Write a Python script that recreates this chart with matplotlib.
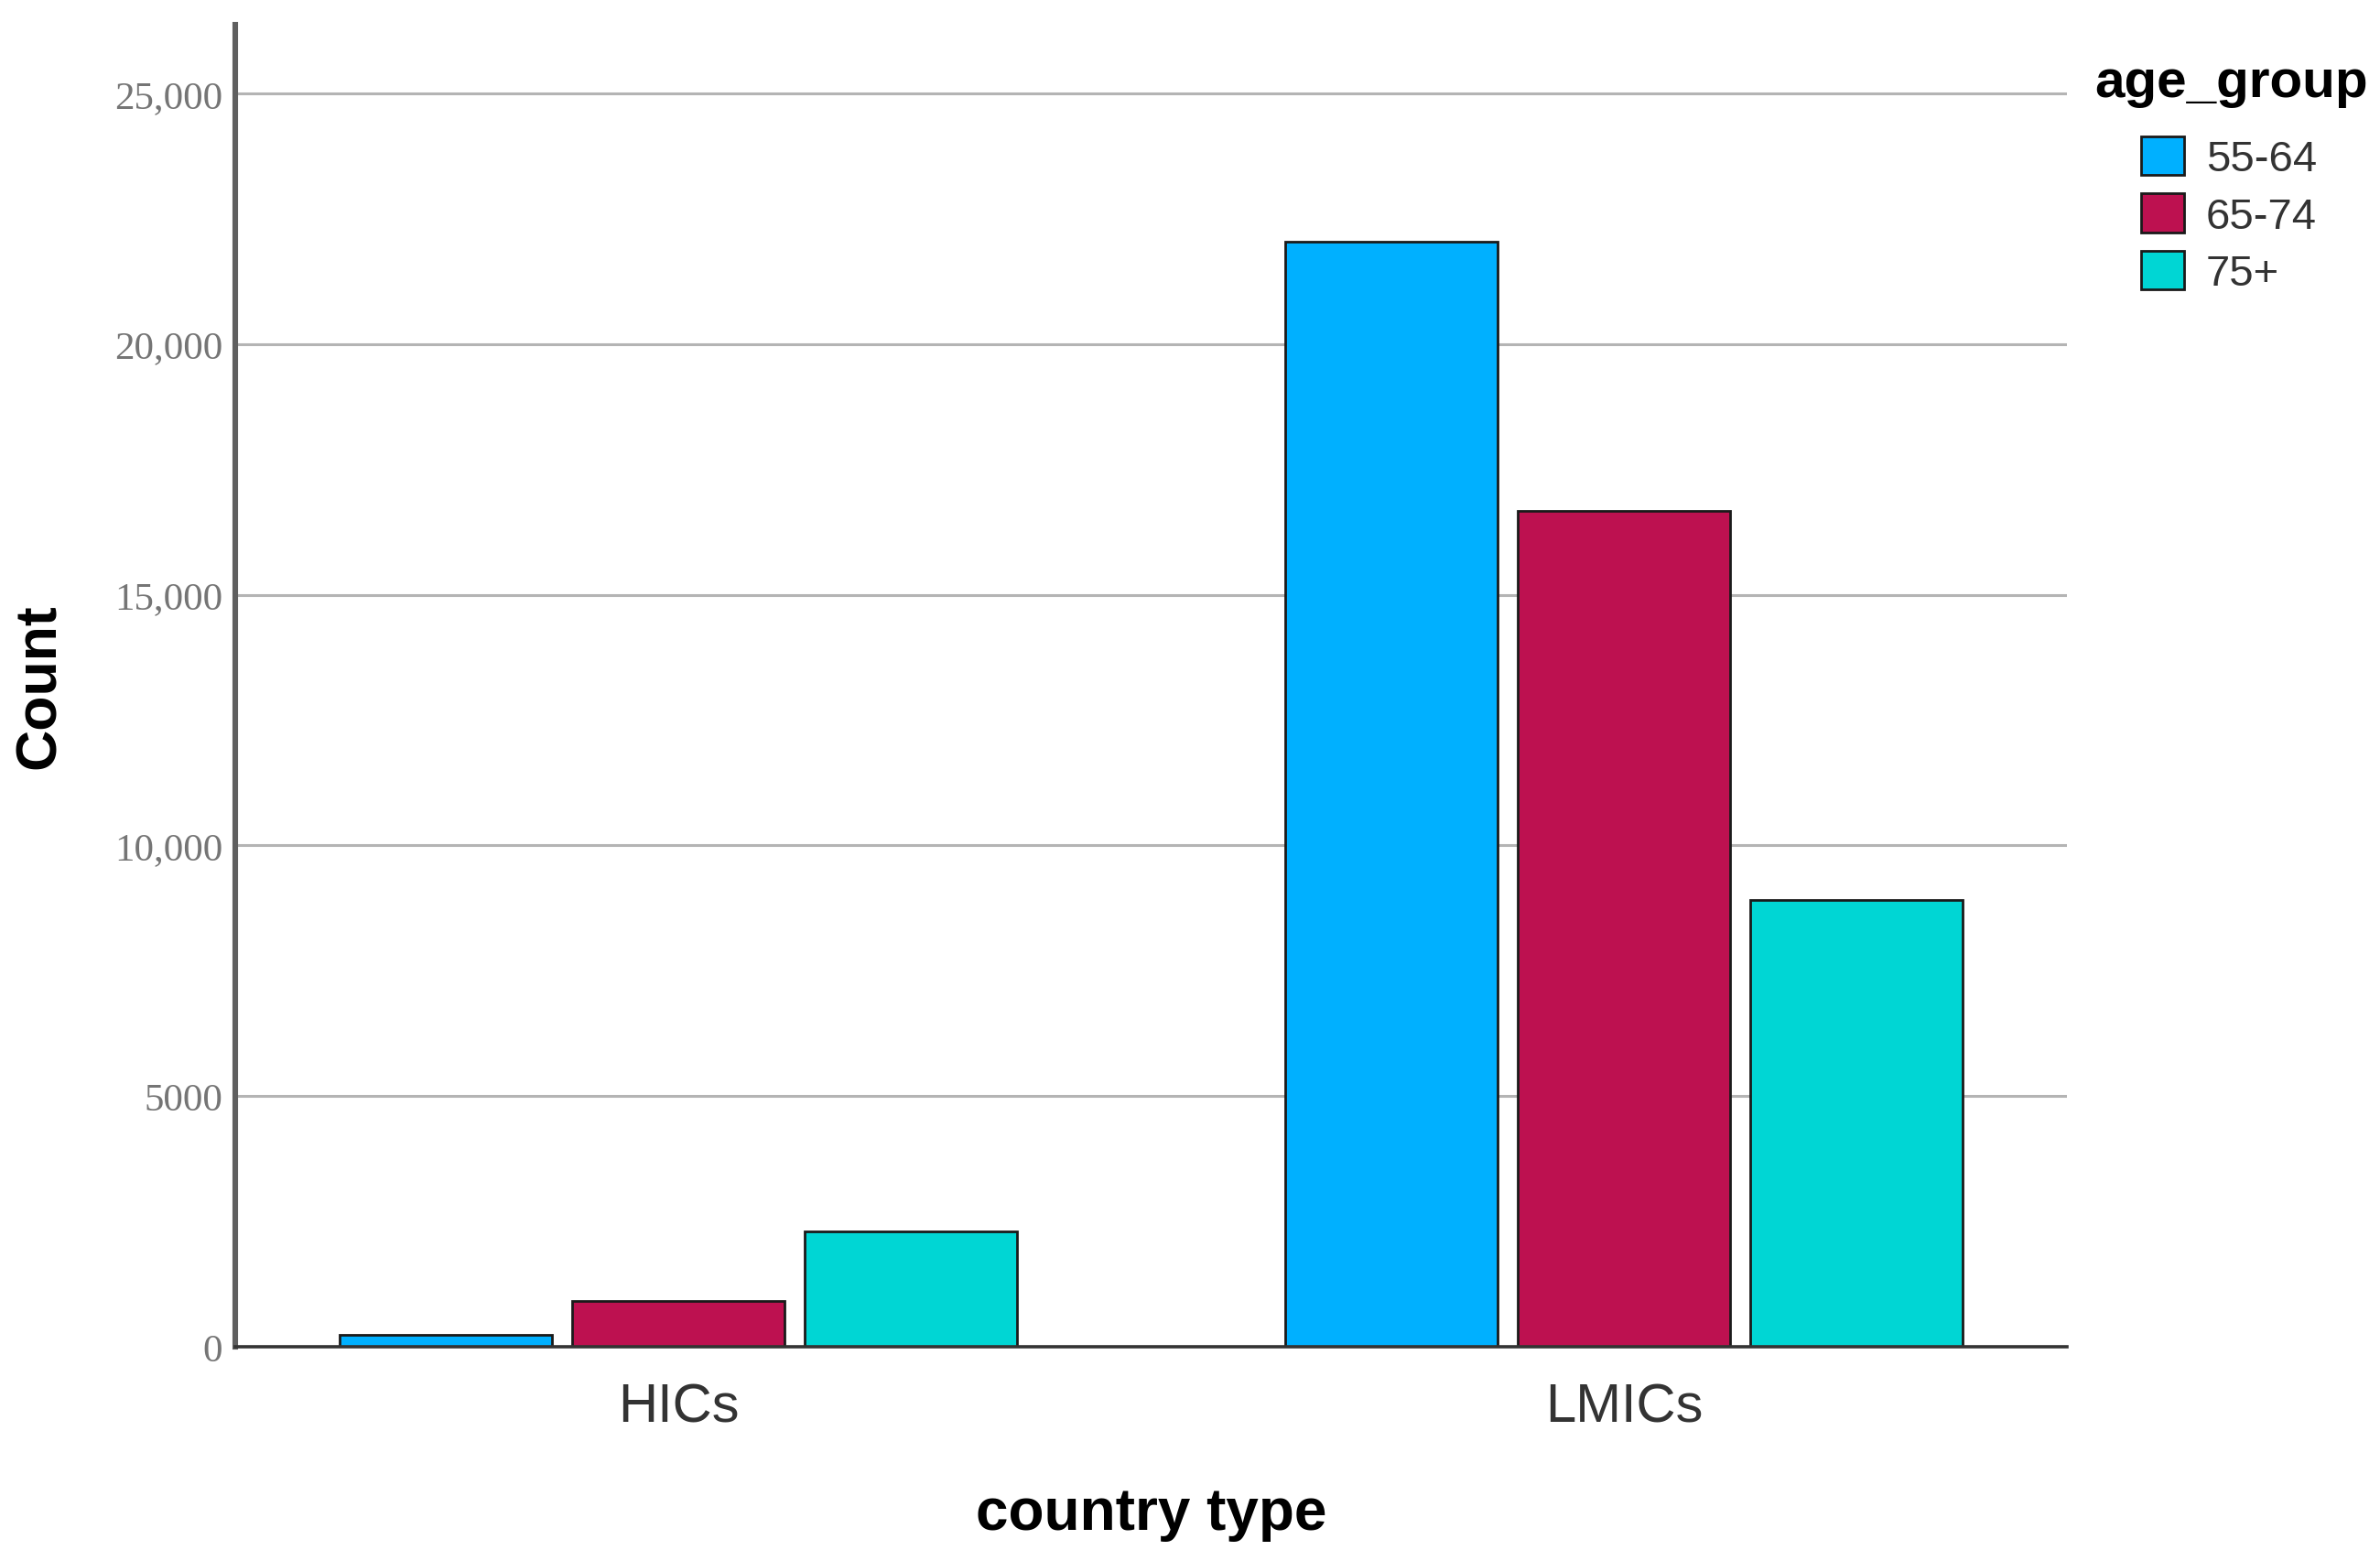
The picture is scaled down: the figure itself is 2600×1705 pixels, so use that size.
import matplotlib
matplotlib.use("Agg")
import matplotlib.pyplot as plt
import numpy as np

plt.rcParams["font.family"] = "Liberation Sans"

# Datos
country_types = ["HICs", "LMICs"]
age_groups = ["55-64", "65-74", "75+"]
count_55_64 = [240, 22050]
count_65_74 = [910, 16680]
count_75_plus = [2300, 8920]
series = [count_55_64, count_65_74, count_75_plus]
colores = ["#00b0ff", "#bd1150", "#00d6d4"]

y_ticks = [0, 5000, 10000, 15000, 20000, 25000]
y_tick_labels = ["0", "5000", "10,000", "15,000", "20,000", "25,000"]

W, H = 2600, 1706
fig = plt.figure(figsize=(13, 8.53), dpi=200)
ax = fig.add_axes([257 / W, 1 - 1472 / H, (2258 - 257) / W, (1472 - 28) / H])

x = np.arange(len(country_types))
step = 0.2456
width = 0.2247
for i, (vals, col, lab) in enumerate(zip(series, colores, age_groups)):
    ax.bar(x + (i - 1) * step, vals, width=width, color=col, edgecolor="#1a1a1a",
           linewidth=1.0, label=lab, zorder=3)

ax.set_xlim(-0.4687, 1.4687)
ax.set_ylim(0, 26370)

# ejes y rejilla
ax.set_yticks(y_ticks)
ax.set_yticklabels(y_tick_labels, fontfamily="Liberation Serif", fontsize=15.5, color="#757575")
ax.set_xticks(x)
ax.set_xticklabels(country_types, fontsize=21.5, color="#333333")
ax.tick_params(axis="y", length=0, pad=5)
ax.tick_params(axis="x", length=0, pad=14)
ax.yaxis.grid(True, color="#b4b4b4", linewidth=1.1, zorder=0)
ax.set_axisbelow(True)

for s in ["top", "right"]:
    ax.spines[s].set_visible(False)
ax.spines["left"].set_color("#5f5f5f")
ax.spines["left"].set_linewidth(2.2)
ax.spines["bottom"].set_color("#333333")
ax.spines["bottom"].set_linewidth(1.3)
ax.spines["bottom"].set_zorder(4)

ax.set_xlabel("country type", fontsize=23, fontweight="bold", labelpad=21)
ax.set_ylabel("Count", fontsize=22.5, fontweight="bold")
ax.yaxis.set_label_coords(-0.092, 0.5)

# leyenda
fig.text(2288 / W, 1 - 106 / H, "age_group", fontsize=21, fontweight="bold",
         ha="left", va="baseline")
leg = ax.legend(loc="upper left", bbox_to_anchor=(2339 / W, 1 - 150 / H),
                bbox_transform=fig.transFigure, frameon=False, fontsize=17,
                handlelength=1.0, handleheight=1.0, handletextpad=0.5,
                labelspacing=0.32, borderpad=0, borderaxespad=0)
for t in leg.get_texts():
    t.set_color("#333333")

plt.savefig("out.png", dpi=200)
